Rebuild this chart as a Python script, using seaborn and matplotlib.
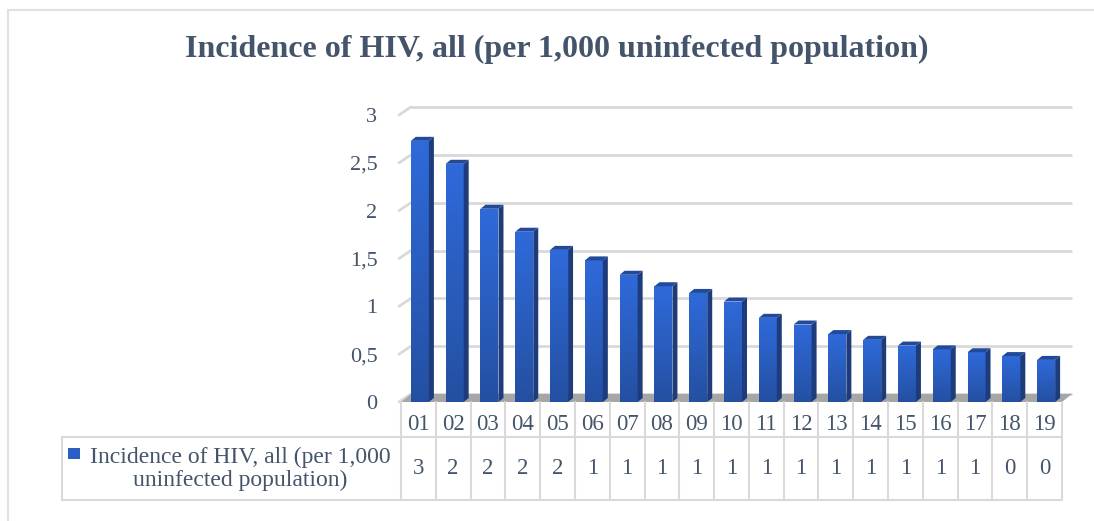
import matplotlib
matplotlib.use("Agg")
import matplotlib.pyplot as plt
from matplotlib.patches import Polygon, Rectangle
import pandas as pd
import seaborn as sns
import numpy as np

# values (table row shows them rounded)
years = ["01", "02", "03", "04", "05", "06", "07", "08", "09", "10",
         "11", "12", "13", "14", "15", "16", "17", "18", "19"]
incidence = [2.73, 2.49, 2.02, 1.78, 1.59, 1.48, 1.33, 1.21, 1.14, 1.05,
             0.88, 0.81, 0.71, 0.65, 0.59, 0.55, 0.52, 0.48, 0.44]
series_name = "Incidence of HIV, all (per 1,000 uninfected population)"
legend_label = "Incidence of HIV, all (per 1,000\nuninfected population)"
yticks = [0, 0.5, 1, 1.5, 2, 2.5, 3]
ytick_labels = ["0", "0,5", "1", "1,5", "2", "2,5", "3"]

data = pd.DataFrame({"year": years, "value": incidence})

sns.set_style("white")
plt.rcParams["font.family"] = ["Liberation Serif", "DejaVu Serif"]
txt = "#44546A"
grid_c = "#D9D9D9"

W, H = 1094, 521
fig = plt.figure(figsize=(W / 100, H / 100), dpi=100)

# outer frame (runs off the right/bottom edge like the source)
fig.patches.append(Rectangle((8 / W, -0.05), 1.2, 1 - 10 / H + 0.05,
                             transform=fig.transFigure, fill=False,
                             edgecolor="#DDE1E8", linewidth=1.5))

fig.text(557 / W, 1 - 49 / H, series_name, ha="center", va="center",
         fontsize=23, fontweight="bold", color=txt)

# axes for the bars: front plane, x 401..1062 px, y 402..115 px
left, right, bottom, top = 401, 1062, 402, 115
ax = fig.add_axes([left / W, 1 - bottom / H, (right - left) / W, (bottom - top) / H])

n = len(years)
px_x = n / (right - left)        # data units per pixel
px_y = 3 / (bottom - top)
ddx, ddy = 10 * px_x, 8 * px_y   # depth offset of the back wall

# back wall gridlines + left wall stubs
for v in yticks:
    ax.plot([-0.5 + ddx, n - 0.5 + ddx], [v + ddy, v + ddy], color=grid_c,
            lw=2, clip_on=False, zorder=1, solid_capstyle="butt")
    ax.plot([-0.5 - 2 * px_x, -0.5 + ddx], [v, v + ddy], color=grid_c,
            lw=2, clip_on=False, zorder=1)

# floor
ax.add_patch(Polygon([(-0.5, 0), (n - 0.5, 0), (n - 0.5 + ddx, ddy), (-0.5 + ddx, ddy)],
                     closed=True, facecolor="#A6A6A6", edgecolor="none",
                     zorder=2, clip_on=False))

sns.barplot(data=data, x="year", y="value", color="#2B61C9", width=18 * px_x,
            saturation=1, linewidth=0, ax=ax, zorder=3)

# vertical gradient for the front faces, 3D side/top faces from each bar patch
grad = np.linspace(0, 1, 64).reshape(-1, 1)
cmap = matplotlib.colors.LinearSegmentedColormap.from_list("bar", ["#2450A2", "#2F6ADA"])
sdx, sdy = 5 * px_x, 4 * px_y
for p in [q for q in ax.patches if isinstance(q, Rectangle)]:
    x0, w, h = p.get_x() + 1.5 * px_x, p.get_width(), p.get_height()
    p.set_x(x0)
    x1 = x0 + w
    im = ax.imshow(grad, cmap=cmap, origin="lower", aspect="auto",
                   extent=(x0, x1, 0, h), zorder=3.1)
    im.set_clip_path(p)
    ax.add_patch(Polygon([(x1, 0), (x1 + sdx, sdy), (x1 + sdx, h + sdy), (x1, h)],
                         closed=True, facecolor="#1E3C7C", edgecolor="none", zorder=3.2))
    ax.add_patch(Polygon([(x0, h), (x1, h), (x1 + sdx, h + sdy), (x0 + sdx, h + sdy)],
                         closed=True, facecolor="#22499A", edgecolor="none", zorder=3.2))
ax.set_xlim(-0.5, n - 0.5)
ax.set_ylim(0, 3)

ax.set_yticks(yticks)
ax.set_yticklabels(ytick_labels)
ax.tick_params(axis="y", length=0, pad=17, labelsize=16, labelcolor=txt)
ax.set_xticks([])
ax.set_xlabel("")
ax.set_ylabel("")
sns.despine(ax=ax, left=True, bottom=True)
ax.patch.set_alpha(0)

# data table under the plot
trans = ax.get_xaxis_transform()
row1 = -(437 - bottom) / (bottom - top)
row2 = -(500 - bottom) / (bottom - top)
head_y = -(424 - bottom) / (bottom - top)
label_left = -0.5 - (left - 62) * px_x
kw = dict(color=grid_c, lw=1.5, transform=trans, clip_on=False)
ax.plot([label_left, n - 0.5], [row1, row1], **kw)
ax.plot([label_left, n - 0.5], [row2, row2], **kw)
ax.plot([label_left, label_left], [row1, row2], **kw)
for i in range(n + 1):
    ax.plot([i - 0.5, i - 0.5], [0, row2], **kw)
for i, (yr, v) in enumerate(zip(years, incidence)):
    ax.text(i, head_y, yr, transform=trans, ha="center", va="center",
            fontsize=16.5, color=txt)
    ax.text(i, (row1 + row2) / 2, f"{v:.0f}", transform=trans, ha="center",
            va="center", fontsize=16.5, color=txt)

fig.text(240 / W, 1 - 469 / H, legend_label, ha="center", va="center",
         fontsize=17, color=txt, linespacing=1.15)
fig.patches.append(Rectangle((68 / W, 1 - 459 / H), 12 / W, 11 / H,
                             transform=fig.transFigure, facecolor="#2B5EC4",
                             edgecolor="none"))

fig.savefig("out.png", dpi=100)
